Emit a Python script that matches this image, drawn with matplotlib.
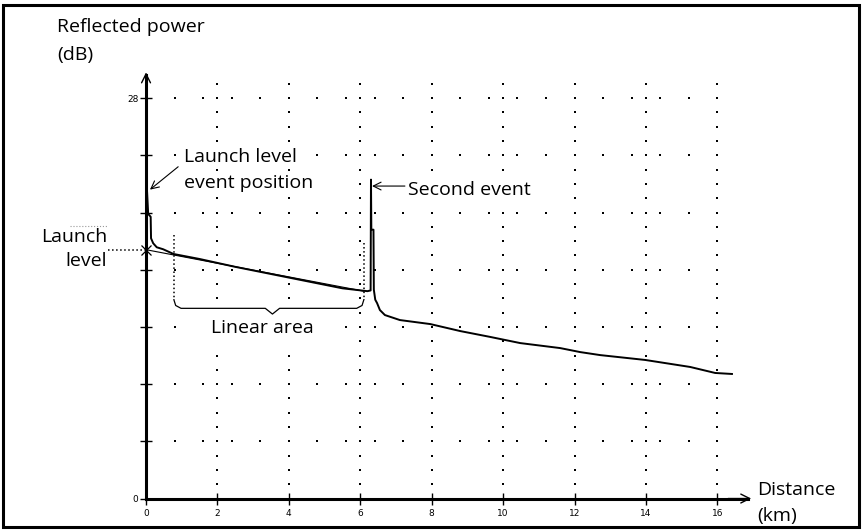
import numpy as np
import matplotlib
matplotlib.use("Agg")
import matplotlib.pyplot as plt
from matplotlib.patches import Rectangle

plt.rcParams["font.family"] = ["Open Sans", "DejaVu Sans"]

# OTDR trace (distance in km, reflected power in dB)
trace_km = [0.03, 0.06, 0.13, 0.14, 0.20, 0.30, 0.48, 0.77, 1.5, 2.5, 3.5, 4.5,
            5.5, 6.2, 6.29, 6.30, 6.31, 6.37, 6.38, 6.42, 6.47, 6.55, 6.69,
            7.11, 7.96, 8.80, 9.64, 10.48, 11.6, 12.16, 12.72, 13.98, 15.24,
            15.94, 16.41]
trace_db = [21.4, 19.9, 19.7, 18.2, 17.85, 17.57, 17.43, 17.1, 16.75, 16.2,
            15.7, 15.2, 14.7, 14.5, 14.55, 22.3, 18.8, 18.8, 14.6, 13.9, 13.67,
            13.18, 12.83, 12.48, 12.2, 11.71, 11.3, 10.87, 10.52, 10.24, 10.03,
            9.69, 9.2, 8.78, 8.71]

# fitted line over the linear area, starting at the launch level
fit_km = [0.0, 6.1]
fit_db = [17.4, 14.5]
launch_level = 17.4

linear_start, linear_end = 0.78, 6.1

x_ticks = [0, 2, 4, 6, 8, 10, 12, 14, 16]
y_ticks = [0, 4, 8, 12, 16, 20, 24, 28]
y_tick_labels = ["0", "", "", "", "", "", "", "28"]

fig = plt.figure(figsize=(8.63, 5.32), dpi=100)
ax = fig.add_axes([0, 0, 1, 1])
ax.set_xlim(-4.09, 20.08)
ax.set_ylim(-2.34, 34.86)

# axes drawn as crossing spines at the origin
for side in ("top", "right"):
    ax.spines[side].set_visible(False)
ax.spines["left"].set_position(("data", 0))
ax.spines["bottom"].set_position(("data", 0))
ax.spines["left"].set_bounds(0, 29.6)
ax.spines["bottom"].set_bounds(0, 16.85)
for side in ("left", "bottom"):
    ax.spines[side].set_linewidth(2.2)
ax.set_xticks(x_ticks)
ax.set_yticks(y_ticks)
ax.set_yticklabels(y_tick_labels)
ax.tick_params(direction="inout", length=9, width=1, labelsize=6.5, pad=1,
               labelfontfamily="DejaVu Sans")
ax.tick_params(axis="x", pad=3)

arrow_kw = dict(arrowstyle="->", lw=1, color="black", mutation_scale=16,
                shrinkA=0, shrinkB=0)
ax.annotate("", xy=(0, 29.8), xytext=(0, 28.8), arrowprops=arrow_kw)
ax.annotate("", xy=(16.95, 0), xytext=(16.3, 0), arrowprops=arrow_kw)

# dotted grid: columns every 2 km, rows every 4 dB
dot_kw = dict(ls="none", marker="s", ms=1.6, color="black", mew=0)
col_y = np.arange(1, 30)
for xv in x_ticks[1:]:
    ax.plot(np.full(col_y.size, xv), col_y, **dot_kw)
row_x = np.arange(1, 21) * 0.8
for yv in y_ticks[1:]:
    ax.plot(row_x, np.full(row_x.size, yv), **dot_kw)

# white boxes behind the labels hide the grid dots
box = dict(facecolor="white", edgecolor="none", pad=1)
txt = dict(fontsize=14, va="baseline", zorder=5)
ax.text(-2.49, 32.6, "Reflected power", **txt)
ax.text(-2.49, 30.66, "(dB)", **txt)
ax.text(1.06, 23.53, "Launch level", bbox=box, **txt)
ax.text(1.06, 21.71, "event position", bbox=box, **txt)
ax.text(7.34, 21.22, "Second event", bbox=box, **txt)
ax.text(-1.09, 17.94, "Launch", ha="right", **txt)
ax.text(-1.09, 16.26, "level", ha="right", **txt)
ax.text(3.25, 11.57, "Linear area", ha="center",
        bbox=dict(facecolor="white", edgecolor="none", pad=6), **txt)
ax.text(17.11, 0.24, "Distance", **txt)
ax.text(17.11, -1.57, "(km)", **txt)

# trace and fitted line
ax.plot(trace_km, trace_db, color="black", lw=1.4, zorder=6)
ax.plot(fit_km, fit_db, color="black", lw=0.8, zorder=6)
ax.plot([0], [launch_level], marker="x", ms=7, mew=0.9, color="black", zorder=7)

# launch level pointer and linear area markers
ax.plot([-1.06, 0], [launch_level, launch_level], ls=":", lw=1.1,
        color="black", clip_on=False, zorder=6)
ax.plot([-2.13, -1.09], [19.06, 19.06], ls=":", lw=0.8, color="0.6")
ax.plot([linear_start, linear_start], [18.4, 13.9], ls=":", lw=1.1, color="black")
ax.plot([linear_end, linear_end], [17.9, 13.9], ls=":", lw=1.1, color="black")

# curly bracket under the linear area
mid = (linear_start + linear_end) / 2 + 0.1
br_x = [linear_start, linear_start + 0.05, linear_start + 0.2, mid - 0.2, mid,
        mid + 0.2, linear_end - 0.2, linear_end - 0.05, linear_end]
br_y = [13.9, 13.5, 13.3, 13.3, 12.9, 13.3, 13.3, 13.5, 13.9]
ax.plot(br_x, br_y, color="black", lw=0.9, zorder=6)

# event annotations
ax.annotate("", xy=(0.11, 21.6), xytext=(0.9, 23.2),
            arrowprops=dict(arrowstyle="->", lw=0.8, color="black",
                            mutation_scale=14, shrinkA=0, shrinkB=0))
ax.annotate("", xy=(6.33, 21.85), xytext=(7.25, 21.85),
            arrowprops=dict(arrowstyle="->", lw=0.8, color="black",
                            mutation_scale=14, shrinkA=0, shrinkB=0))

# frame around the whole picture
fig.patches.append(Rectangle((0.0029, 0.0085), 0.993, 0.983, fill=False,
                             lw=2.2, edgecolor="black",
                             transform=fig.transFigure))

fig.savefig("out.png", dpi=100)
